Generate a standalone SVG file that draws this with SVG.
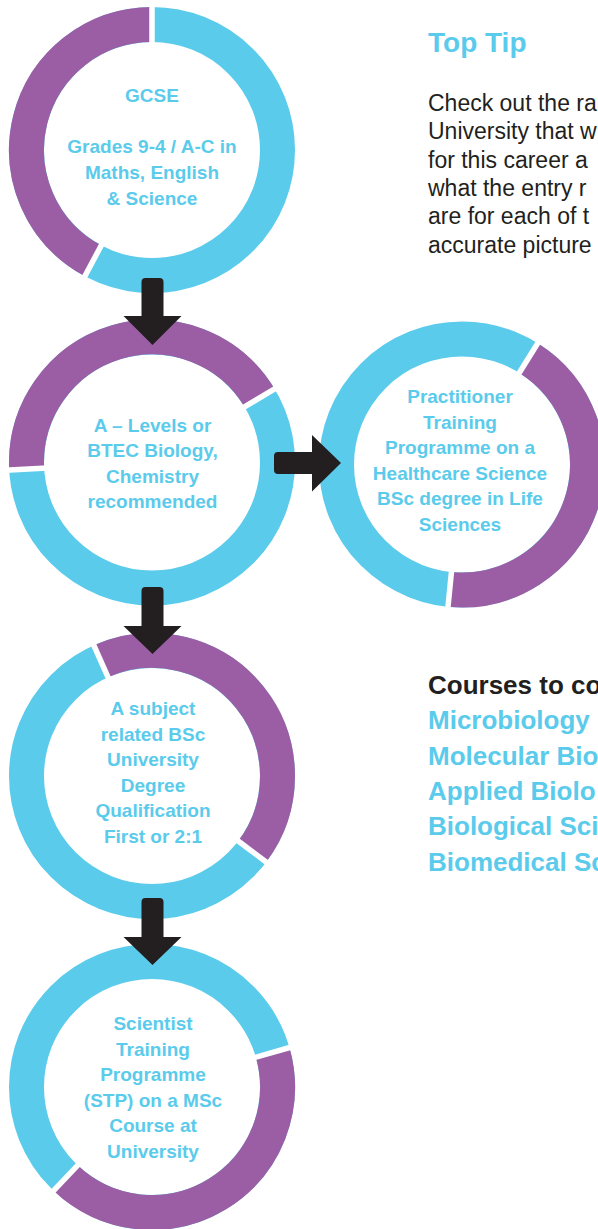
<svg xmlns="http://www.w3.org/2000/svg" width="598" height="1229" viewBox="0 0 598 1229">
<style>
.ring{fill:none;stroke:#5BCBEC;stroke-width:35}
.arc{fill:none;stroke:#9B5EA5;stroke-width:35}
.gap{stroke:#FFFFFF;stroke-width:5.5}
.lbl{font-family:"Liberation Sans",Arial,sans-serif;font-weight:bold;font-size:19px;fill:#5BCBEC;text-anchor:middle}
.arrow{fill:#231F20}
.body{font-family:"Liberation Sans",Arial,sans-serif;font-size:23px;fill:#231F20}
.course{font-family:"Liberation Sans",Arial,sans-serif;font-weight:bold;font-size:26px;fill:#5BCBEC}
</style>
<rect width="598" height="1229" fill="#FFFFFF"/>

<g id="node-gcse">
<circle class="ring" cx="152" cy="150" r="125.5"/>
<path class="arc" d="M93.08,260.81 A125.5,125.5 0 0 1 152,24.5"/>
<line class="gap" x1="102.7" y1="242.7" x2="83.45" y2="278.9"/>
<line class="gap" x1="152" y1="45" x2="152" y2="3"/>
<text class="lbl" x="152" y="102">GCSE</text>
<text class="lbl" x="152" y="153">Grades 9-4 / A-C in</text>
<text class="lbl" x="152" y="179">Maths, English</text>
<text class="lbl" x="152" y="205">&amp; Science</text>
</g>

<g id="node-alevels">
<circle class="ring" cx="152" cy="462.5" r="125.5"/>
<path class="arc" d="M26.67,469.07 A125.5,125.5 0 0 1 259.58,397.87"/>
<line class="gap" x1="47.14" y1="467.99" x2="5.2" y2="470.2"/>
<line class="gap" x1="242" y1="408.42" x2="278" y2="386.8"/>
<text class="lbl" x="152.5" y="431.5">A – Levels or</text>
<text class="lbl" x="152.5" y="457">BTEC Biology,</text>
<text class="lbl" x="152.5" y="482.5">Chemistry</text>
<text class="lbl" x="152.5" y="508">recommended</text>
</g>

<g id="node-ptp">
<circle class="ring" cx="462" cy="464.5" r="125.5"/>
<path class="arc" d="M528.5,358.08 A125.5,125.5 0 0 1 449.75,589.4"/>
<line class="gap" x1="517.64" y1="375.46" x2="539.9" y2="339.8"/>
<line class="gap" x1="451.75" y1="569" x2="447.6" y2="610.8"/>
<text class="lbl" x="460" y="403">Practitioner</text>
<text class="lbl" x="460" y="428.5">Training</text>
<text class="lbl" x="460" y="454">Programme on a</text>
<text class="lbl" x="460" y="479.5">Healthcare Science</text>
<text class="lbl" x="460" y="505">BSc degree in Life</text>
<text class="lbl" x="460" y="530.5">Sciences</text>
</g>

<g id="node-bsc">
<circle class="ring" cx="152" cy="776" r="125.5"/>
<path class="arc" d="M100.96,661.35 A125.5,125.5 0 0 1 252.22,851.53"/>
<line class="gap" x1="109.3" y1="680.08" x2="92.2" y2="641.7"/>
<line class="gap" x1="235.85" y1="839.19" x2="269.4" y2="864.5"/>
<text class="lbl" x="153" y="715">A subject</text>
<text class="lbl" x="153" y="740.5">related BSc</text>
<text class="lbl" x="153" y="766">University</text>
<text class="lbl" x="153" y="791.5">Degree</text>
<text class="lbl" x="153" y="817">Qualification</text>
<text class="lbl" x="153" y="842.5">First or 2:1</text>
</g>

<g id="node-stp">
<circle class="ring" cx="152" cy="1087" r="125.5"/>
<path class="arc" d="M272.64,1052.41 A125.5,125.5 0 0 1 65.61,1178.04"/>
<line class="gap" x1="252.94" y1="1058.06" x2="293.3" y2="1046.5"/>
<line class="gap" x1="79.72" y1="1163.17" x2="50.8" y2="1193.6"/>
<text class="lbl" x="153" y="1030">Scientist</text>
<text class="lbl" x="153" y="1055.5">Training</text>
<text class="lbl" x="153" y="1081">Programme</text>
<text class="lbl" x="153" y="1106.5">(STP) on a MSc</text>
<text class="lbl" x="153" y="1132">Course at</text>
<text class="lbl" x="153" y="1157.5">University</text>
</g>

<g id="connectors">
<path class="arrow" d="M141.5,316 V282 Q141.5,278 145.5,278 H159.5 Q163.5,278 163.5,282 V316 H181.5 L152.5,345 L123.5,316 Z"/>
<path class="arrow" d="M274,456 Q274,452 278,452 H312 V435 L341,463 L312,491.5 V474 H278 Q274,474 274,470 Z"/>
<path class="arrow" d="M141.5,626 V591 Q141.5,587 145.5,587 H159.5 Q163.5,587 163.5,591 V626 H181.5 L152.5,654 L123.5,626 Z"/>
<path class="arrow" d="M141.5,937 V902 Q141.5,898 145.5,898 H159.5 Q163.5,898 163.5,902 V937 H181.5 L152.5,965 L123.5,937 Z"/>
</g>

<g id="top-tip">
<text x="428" y="52" font-family="'Liberation Sans',Arial,sans-serif" font-weight="bold" font-size="28" fill="#5BCBEC">Top Tip</text>
<text class="body" x="428" y="111">Check out the ra</text>
<text class="body" x="428" y="139.3">University that w</text>
<text class="body" x="428" y="167.6">for this career a</text>
<text class="body" x="428" y="195.9">what the entry r</text>
<text class="body" x="428" y="224.2">are for each of t</text>
<text class="body" x="428" y="252.5">accurate picture</text>
</g>

<g id="courses">
<text x="428" y="694" font-family="'Liberation Sans',Arial,sans-serif" font-weight="bold" font-size="26" fill="#231F20">Courses to co</text>
<text class="course" x="428" y="729.3">Microbiology</text>
<text class="course" x="428" y="764.6">Molecular Bio</text>
<text class="course" x="428" y="800">Applied Biolo</text>
<text class="course" x="428" y="835.3">Biological Sci</text>
<text class="course" x="428" y="870.6">Biomedical Sc</text>
</g>
</svg>
